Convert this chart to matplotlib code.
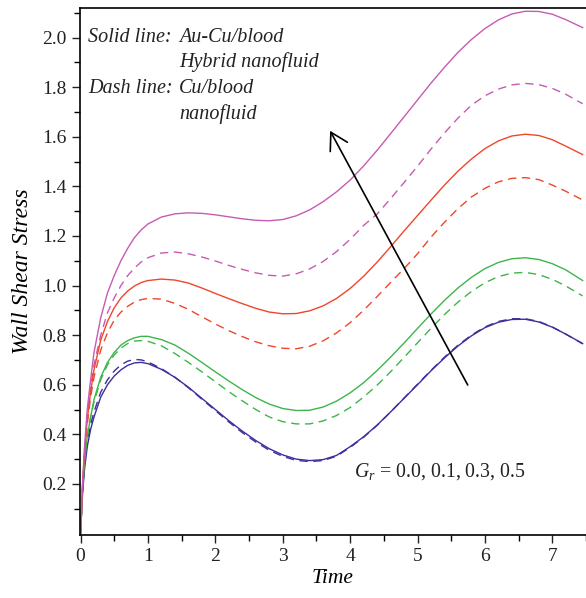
import matplotlib
matplotlib.use("Agg")
import matplotlib.pyplot as plt

plt.rcParams['font.family'] = ['Liberation Serif', 'DejaVu Serif']
plt.rcParams['mathtext.fontset'] = 'custom'
plt.rcParams['mathtext.rm'] = 'Liberation Serif'
plt.rcParams['mathtext.it'] = 'Liberation Serif:italic'

# time grid
time = [0, 0.03, 0.06, 0.1, 0.15, 0.2, 0.3, 0.4, 0.5, 0.6, 0.7, 0.8, 0.9, 1.0,
        1.2, 1.4, 1.6, 1.8, 2.0, 2.2, 2.4, 2.6, 2.8, 3.0, 3.2, 3.4, 3.6, 3.8,
        4.0, 4.2, 4.4, 4.6, 4.8, 5.0, 5.2, 5.4, 5.6, 5.8, 6.0, 6.2, 6.4, 6.6,
        6.8, 7.0, 7.2, 7.45]

# Solid lines: Au-Cu/blood hybrid nanofluid, Gr = 0.0, 0.1, 0.3, 0.5
hyb_gr00 = [0, 0.16, 0.26, 0.35, 0.42, 0.47, 0.55, 0.60, 0.635, 0.66, 0.678, 0.688, 0.690, 0.685,
            0.662, 0.630, 0.590, 0.545, 0.500, 0.455, 0.413, 0.375, 0.342, 0.317, 0.300, 0.294, 0.298, 0.315,
            0.350, 0.390, 0.437, 0.490, 0.545, 0.600, 0.656, 0.708, 0.756, 0.797, 0.830, 0.852, 0.863, 0.864,
            0.853, 0.832, 0.804, 0.766]
hyb_gr01 = [0, 0.17, 0.29, 0.39, 0.47, 0.54, 0.63, 0.69, 0.73, 0.76, 0.778, 0.789, 0.795, 0.795,
            0.782, 0.760, 0.727, 0.690, 0.652, 0.615, 0.580, 0.548, 0.522, 0.504, 0.496, 0.497, 0.510, 0.534,
            0.567, 0.608, 0.657, 0.711, 0.768, 0.827, 0.885, 0.940, 0.990, 1.033, 1.068, 1.093, 1.108, 1.112,
            1.105, 1.088, 1.063, 1.020]
hyb_gr03 = [0, 0.19, 0.33, 0.46, 0.57, 0.66, 0.78, 0.855, 0.91, 0.950, 0.978, 0.998, 1.012, 1.020,
            1.026, 1.022, 1.010, 0.990, 0.968, 0.947, 0.927, 0.908, 0.893, 0.886, 0.887, 0.898, 0.918, 0.948,
            0.988, 1.037, 1.094, 1.156, 1.220, 1.282, 1.344, 1.405, 1.461, 1.510, 1.552, 1.583, 1.603, 1.610,
            1.605, 1.588, 1.562, 1.528]
hyb_gr05 = [0, 0.20, 0.35, 0.50, 0.62, 0.73, 0.87, 0.97, 1.04, 1.10, 1.150, 1.193, 1.224, 1.248,
            1.276, 1.289, 1.293, 1.291, 1.285, 1.277, 1.269, 1.263, 1.261, 1.266, 1.281, 1.305, 1.338, 1.378,
            1.425, 1.482, 1.545, 1.612, 1.680, 1.748, 1.816, 1.880, 1.940, 1.992, 2.036, 2.071, 2.095, 2.106,
            2.105, 2.094, 2.072, 2.040]

# Dash lines: Cu/blood nanofluid
cu_gr00 = [0, 0.17, 0.28, 0.37, 0.44, 0.49, 0.57, 0.62, 0.655, 0.68, 0.695, 0.702, 0.700, 0.692,
           0.665, 0.630, 0.588, 0.542, 0.496, 0.450, 0.407, 0.369, 0.336, 0.311, 0.295, 0.290, 0.294, 0.312,
           0.347, 0.388, 0.436, 0.490, 0.546, 0.602, 0.658, 0.711, 0.759, 0.800, 0.833, 0.855, 0.866, 0.866,
           0.855, 0.833, 0.804, 0.765]
cu_gr01 = [0, 0.17, 0.29, 0.39, 0.47, 0.53, 0.62, 0.68, 0.72, 0.748, 0.766, 0.776, 0.778, 0.775,
           0.757, 0.726, 0.690, 0.652, 0.612, 0.572, 0.535, 0.500, 0.470, 0.451, 0.442, 0.442, 0.454, 0.476,
           0.508, 0.550, 0.598, 0.652, 0.710, 0.769, 0.827, 0.883, 0.933, 0.976, 1.011, 1.036, 1.050, 1.053,
           1.044, 1.025, 0.998, 0.958]
cu_gr03 = [0, 0.18, 0.32, 0.44, 0.55, 0.63, 0.74, 0.81, 0.86, 0.893, 0.916, 0.933, 0.943, 0.948,
           0.945, 0.928, 0.904, 0.874, 0.845, 0.818, 0.794, 0.773, 0.757, 0.747, 0.745, 0.755, 0.777, 0.809,
           0.850, 0.900, 0.955, 1.012, 1.068, 1.128, 1.195, 1.255, 1.310, 1.357, 1.392, 1.418, 1.432, 1.435,
           1.427, 1.405, 1.380, 1.345]
cu_gr05 = [0, 0.19, 0.34, 0.48, 0.59, 0.68, 0.80, 0.89, 0.95, 1.00, 1.04, 1.07, 1.095, 1.112,
           1.131, 1.135, 1.128, 1.115, 1.099, 1.081, 1.065, 1.051, 1.041, 1.038, 1.047, 1.067, 1.097, 1.137,
           1.186, 1.242, 1.288, 1.350, 1.415, 1.481, 1.550, 1.615, 1.675, 1.727, 1.765, 1.792, 1.809, 1.815,
           1.810, 1.795, 1.771, 1.733]

colors = ['#3B2F9E', '#3DB54A', '#F0462A', '#C75BB2']
solid = [hyb_gr00, hyb_gr01, hyb_gr03, hyb_gr05]
dashed = [cu_gr00, cu_gr01, cu_gr03, cu_gr05]

fig = plt.figure(figsize=(5.86, 5.98), dpi=100)
ax = fig.add_axes([79.5 / 586, 63 / 598, (586 - 79.5) / 586, 527 / 598])

for ys, c in zip(dashed, colors):
    ax.plot(time, ys, color=c, lw=1.0, linestyle=(0, (6, 4)))
for ys, c in zip(solid, colors):
    ax.plot(time, ys, color=c, lw=1.0)

ax.set_xlim(-0.015, 7.423)
ax.set_ylim(-0.006, 2.119)
ax.set_xticks(range(0, 8))
ax.set_xticks([i + 0.5 for i in range(0, 8)], minor=True)
ax.set_yticks([0.2, 0.4, 0.6, 0.8, 1.0, 1.2, 1.4, 1.6, 1.8, 2.0])
ax.set_yticks([0.1 * i for i in range(1, 22)], minor=True)
ax.set_yticklabels(['0.2', '0.4', '0.6', '0.8', '1.0', '1.2', '1.4', '1.6', '1.8', '2.0'])
ax.tick_params(which='major', direction='out', length=6, width=1, labelsize=14, colors='#222222')
ax.tick_params(which='minor', direction='out', length=4, width=1)
ax.spines['right'].set_visible(False)
for s in ['left', 'bottom', 'top']:
    ax.spines[s].set_linewidth(1.2)

ax.set_xlabel('Time', fontsize=15.5, style='italic', labelpad=3)
ax.set_ylabel('Wall Shear Stress', fontsize=17, style='italic', labelpad=6)

txt = dict(fontsize=14.5, style='italic', color='#222222', va='center')
ax.text(0.11, 2.0, 'Solid line:', **txt)
ax.text(1.46, 2.0, 'Au-Cu/blood', **txt)
ax.text(1.46, 1.90, 'Hybrid nanofluid', **txt)
ax.text(0.11, 1.796, 'Dash line:', **txt)
ax.text(1.46, 1.796, 'Cu/blood', **txt)
ax.text(1.46, 1.69, 'nanofluid', **txt)

ax.text(4.06, 0.25, r'$G_r$ = 0.0, 0.1, 0.3, 0.5', fontsize=14.3, color='#222222', va='center')

ax.annotate('', xy=(3.703, 1.624), xytext=(5.745, 0.599),
            arrowprops=dict(arrowstyle='->,head_length=0.6,head_width=0.35',
                            mutation_scale=20, lw=1.2, color='black', shrinkA=0, shrinkB=0))

fig.savefig('out.png', dpi=100)
